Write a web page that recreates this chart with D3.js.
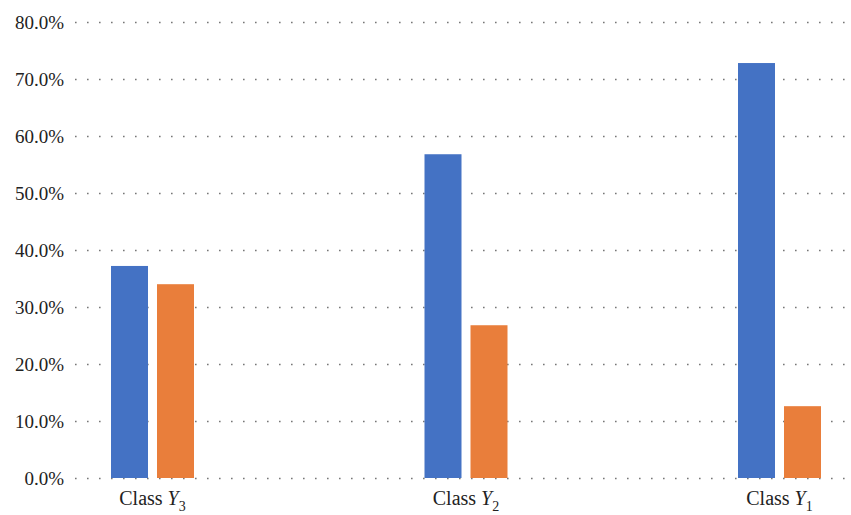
<!DOCTYPE html>
<html><head><meta charset="utf-8">
<script src="https://cdn.jsdelivr.net/npm/d3@7"></script>
</head><body style="margin:0">
<svg id="c" width="851" height="515" style="display:block"></svg>
<script>
const categories = ["3", "2", "1"];           // Class Y_3, Y_2, Y_1
const seriesA = [37.2, 56.8, 72.8];            // blue
const seriesB = [34.0, 26.8, 12.6];            // orange
const yTicks = [0, 10, 20, 30, 40, 50, 60, 70, 80];

const FAM = "'Times New Roman', Tinos, 'Liberation Serif', serif";
const svg = d3.select("#c");
const y = d3.scaleLinear().domain([0, 80]).range([478, 22]);
const x = d3.scalePoint().domain(categories).range([152.5, 779.5]);
const barW = 37, gap = 9;

// gridlines
svg.append("g").selectAll("line").data(yTicks).join("line")
  .attr("x1", 75).attr("x2", 846)
  .attr("y1", d => y(d) + 0.5).attr("y2", d => y(d) + 0.5)
  .attr("stroke", "#777").attr("stroke-width", 1.6)
  .attr("stroke-dasharray", "1.6 10.4");

// y axis labels
const yAxis = d3.axisLeft(y).tickValues(yTicks).tickSize(0).tickPadding(0)
  .tickFormat(d => d.toFixed(1) + "%");
const ga = svg.append("g").attr("transform", "translate(64,0)").call(yAxis);
ga.attr("font-family", FAM).attr("font-size", 19);
ga.select(".domain").remove();
ga.selectAll("text").attr("fill", "#222");

// bars
const g = svg.append("g");
g.selectAll(".a").data(categories).join("rect").attr("class", "a")
  .attr("x", (d) => x(d) - gap / 2 - barW)
  .attr("width", barW)
  .attr("y", (d, i) => y(seriesA[i]))
  .attr("height", (d, i) => y(0) - y(seriesA[i]))
  .attr("fill", "#4472C4");
g.selectAll(".b").data(categories).join("rect").attr("class", "b")
  .attr("x", (d) => x(d) + gap / 2)
  .attr("width", barW)
  .attr("y", (d, i) => y(seriesB[i]))
  .attr("height", (d, i) => y(0) - y(seriesB[i]))
  .attr("fill", "#E97E3B");

// category labels
const lab = svg.append("g").attr("font-family", FAM).attr("font-size", 20)
  .selectAll("text").data(categories).join("text")
  .attr("x", d => x(d)).attr("y", 505)
  .attr("text-anchor", "middle").attr("fill", "#222");
lab.append("tspan").text("Class ");
lab.append("tspan").attr("font-style", "italic").text("Y");
lab.append("tspan").attr("font-size", 14).attr("dy", 6).text(d => d);
</script>
</body></html>
